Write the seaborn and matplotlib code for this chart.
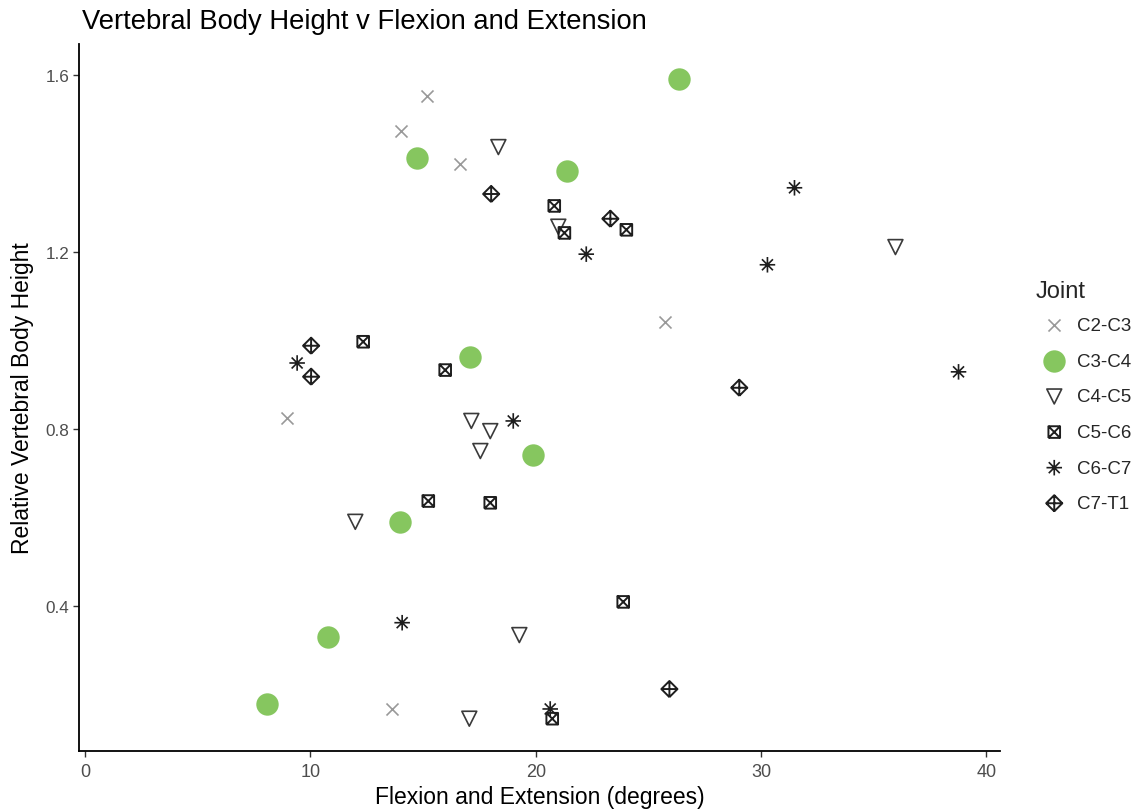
import numpy as np
import pandas as pd
import matplotlib
matplotlib.use("Agg")
import matplotlib.pyplot as plt
from matplotlib.path import Path
import seaborn as sns

# ---- data ----
joints = ["C2-C3", "C3-C4", "C4-C5", "C5-C6", "C6-C7", "C7-T1"]

c23_x = [15.18, 14.03, 16.65, 25.75, 8.97, 13.63]
c23_y = [1.553, 1.473, 1.399, 1.042, 0.825, 0.167]

c34_x = [26.37, 14.74, 21.40, 17.09, 19.89, 13.98, 10.79, 8.08]
c34_y = [1.591, 1.412, 1.383, 0.963, 0.741, 0.590, 0.330, 0.179]

c45_x = [18.34, 21.00, 35.96, 17.14, 17.98, 17.54, 11.99, 19.27, 17.05]
c45_y = [1.437, 1.257, 1.211, 0.818, 0.795, 0.750, 0.590, 0.334, 0.145]

c56_x = [20.82, 21.27, 24.02, 12.34, 15.98, 15.23, 17.98, 23.88, 20.73]
c56_y = [1.304, 1.243, 1.250, 0.997, 0.933, 0.637, 0.633, 0.409, 0.145]

c67_x = [31.48, 22.24, 30.28, 9.41, 38.76, 19.00, 14.07, 20.64]
c67_y = [1.345, 1.195, 1.171, 0.949, 0.929, 0.818, 0.362, 0.167]

c7t1_x = [18.02, 23.31, 10.03, 10.03, 29.03, 25.93]
c7t1_y = [1.331, 1.275, 0.988, 0.918, 0.893, 0.212]

xs = [c23_x, c34_x, c45_x, c56_x, c67_x, c7t1_x]
ys = [c23_y, c34_y, c45_y, c56_y, c67_y, c7t1_y]

x_ticks = [0, 10, 20, 30, 40]
y_ticks = [0.4, 0.8, 1.2, 1.6]
y_tick_labels = ["0.4", "0.8", "1.2", "1.6"]

df = pd.concat(
    [pd.DataFrame({"flex": x, "height": y, "Joint": j}) for j, x, y in zip(joints, xs, ys)],
    ignore_index=True,
)

# ---- custom marker paths ----
M, L = Path.MOVETO, Path.LINETO
square_x = Path(
    [(-1, -1), (1, -1), (1, 1), (-1, 1), (-1, -1), (-1, -1), (1, 1), (-1, 1), (1, -1)],
    [M, L, L, L, L, M, L, M, L],
)
r = np.sqrt(0.5)
asterisk = Path(
    [(0, -1), (0, 1), (-1, 0), (1, 0), (-r, -r), (r, r), (-r, r), (r, -r)],
    [M, L, M, L, M, L, M, L],
)
diamond_plus = Path(
    [(0, -1), (1, 0), (0, 1), (-1, 0), (0, -1), (0, -1), (0, 1), (-1, 0), (1, 0)],
    [M, L, L, L, L, M, L, M, L],
)

styles = {
    "C2-C3": dict(marker="x", color="#999999", s=75, linewidth=1.2),
    "C3-C4": dict(marker="o", color="#86C65F", s=260, linewidth=0),
    "C4-C5": dict(marker="v", facecolor="none", edgecolor="#3a3a3a", s=115, linewidth=1.2),
    "C5-C6": dict(marker=square_x, facecolor="none", edgecolor="#1e1e1e", s=70, linewidth=1.4),
    "C6-C7": dict(marker=asterisk, facecolor="none", edgecolor="#1e1e1e", s=125, linewidth=1.2),
    "C7-T1": dict(marker=diamond_plus, facecolor="none", edgecolor="#1e1e1e", s=135, linewidth=1.4),
}

sns.set_style("ticks")
plt.rcParams["font.family"] = ["Liberation Sans", "DejaVu Sans"]

fig = plt.figure(figsize=(11.35, 8.12), dpi=100)
ax = fig.add_axes([79 / 1135, 1 - 752 / 812, (1000 - 79) / 1135, (752 - 45) / 812])

for j in joints:
    sub = df[df["Joint"] == j]
    kw = dict(styles[j])
    sns.scatterplot(data=sub, x="flex", y="height", ax=ax, label=j, **kw)

ax.set_xlim(-0.27, 40.6)
ax.set_ylim(0.072, 1.670)
ax.set_xticks(x_ticks)
ax.set_yticks(y_ticks)
ax.set_yticklabels(y_tick_labels)

for sp in ["top", "right"]:
    ax.spines[sp].set_visible(False)
for sp in ["left", "bottom"]:
    ax.spines[sp].set_linewidth(1.3)
    ax.spines[sp].set_color("black")
ax.tick_params(axis="both", direction="out", length=4, width=1.0, color="#333333",
               labelcolor="#4D4D4D")
ax.tick_params(axis="x", labelsize=13, pad=5)
ax.tick_params(axis="y", labelsize=12.3, pad=3)

ax.set_xlabel("Flexion and Extension (degrees)", fontsize=16.5, color="black", labelpad=3.5)
ax.set_ylabel("Relative Vertebral Body Height", fontsize=16.5, color="black", labelpad=8)

fig.text(82 / 1135, 1 - 22 / 812, "Vertebral Body Height v Flexion and Extension",
         fontsize=19.7, ha="left", va="center", color="black")

handles, labels = ax.get_legend_handles_labels()
if ax.legend_:
    ax.legend_.remove()
leg = fig.legend(handles, labels, title="Joint", loc="upper left",
                 bbox_to_anchor=(1028 / 1135, 1 - 274 / 812), frameon=False,
                 fontsize=13.5, title_fontsize=17, labelspacing=0.985,
                 handletextpad=0.2, borderaxespad=0, handlelength=2.0,
                 alignment="left", scatterpoints=1)
leg._legend_box.sep = 10.5

fig.savefig("out.png", dpi=100)
